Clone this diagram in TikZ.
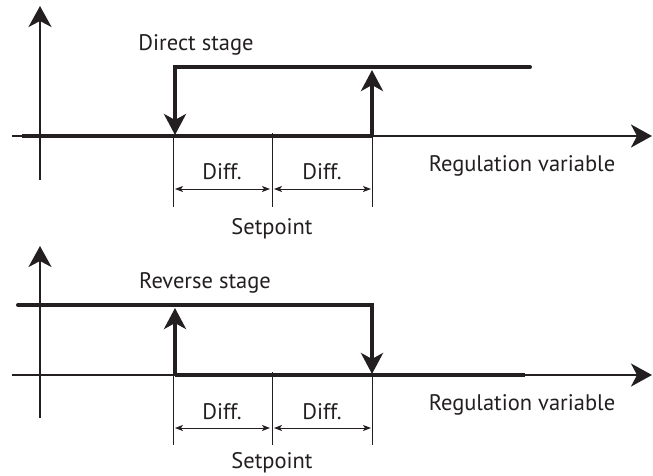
\documentclass[tikz,border=0pt]{standalone}
\usepackage{fontspec}
\setmainfont{PT Sans}
\usetikzlibrary{arrows.meta}
\definecolor{ink}{HTML}{231F20}
\begin{document}
\begin{tikzpicture}[x=1pt,y=-1pt,
  axis/.style={draw=ink,line width=2.3pt,-{Stealth[length=21pt,width=23pt,inset=6pt]}},
  sig/.style={draw=ink,line width=4pt},
  sigarrow/.style={draw=ink,line width=4pt,-{Stealth[length=21pt,width=22pt,inset=6pt]}},
  tick/.style={draw=ink,line width=0.9pt},
  dim/.style={draw=ink,line width=0.9pt,{Stealth[length=8pt,width=6pt,inset=2pt]}-{Stealth[length=8pt,width=6pt,inset=2pt]}},
  lbl/.style={text=ink,font=\fontsize{22.5}{26}\selectfont,inner sep=0pt}]
\useasboundingbox (0,0) rectangle (653,475);
% ---------- top diagram ----------
\coordinate (ya0) at (40,180); \coordinate (ya1) at (40,6);
\coordinate (xa0) at (12,136); \coordinate (xa1) at (652,136);
\draw[axis] (ya0) -- (ya1);
\draw[axis] (xa0) -- (xa1);
\coordinate (l0) at (22,136); \coordinate (l1) at (372,136);
\draw[sig] (l0) -- (l1);
\coordinate (u1) at (372,70);
\draw[sigarrow] (l1) -- (u1);
\coordinate (h1) at (530,67); \coordinate (h0) at (175,67); \coordinate (d1) at (175,135);
\draw[sigarrow,line cap=round] (h1) -- (h0) -- (d1);
\coordinate (t1a) at (173,136); \coordinate (t1b) at (173,207);
\coordinate (t2a) at (272,133); \coordinate (t2b) at (272,207);
\coordinate (t3a) at (372,136); \coordinate (t3b) at (372,207);
\draw[tick] (t1a) -- (t1b);
\draw[tick] (t2a) -- (t2b);
\draw[tick] (t3a) -- (t3b);
\coordinate (a1) at (175,189); \coordinate (a2) at (270,189);
\coordinate (a3) at (274,189); \coordinate (a4) at (371,189);
\draw[dim] (a1) -- (a2);
\draw[dim] (a3) -- (a4);
\node[lbl] (diff1) at (222,172) {Diff.};
\node[lbl] (diff2) at (322,172) {Diff.};
\node[lbl] (sp1) at (272,229) {Setpoint};
\node[lbl] (direct) at (196,45) {Direct stage};
\node[lbl] (rv1) at (522,166) {Regulation variable};
% ---------- bottom diagram ----------
\coordinate (yb0) at (40,418); \coordinate (yb1) at (40,246);
\coordinate (xb0) at (12,375); \coordinate (xb1) at (652,375);
\draw[axis] (yb0) -- (yb1);
\draw[axis] (xb0) -- (xb1);
\coordinate (r0) at (18,305); \coordinate (r1) at (372,305); \coordinate (r2) at (372,374);
\draw[sigarrow,line cap=round] (r0) -- (r1) -- (r2);
\coordinate (m0) at (175,375); \coordinate (m1) at (525,375); \coordinate (m2) at (175,308);
\draw[sig] (m0) -- (m1);
\draw[sigarrow] (m0) -- (m2);
\coordinate (s1a) at (173,375); \coordinate (s1b) at (173,445);
\coordinate (s2a) at (272,372); \coordinate (s2b) at (272,445);
\coordinate (s3a) at (372,375); \coordinate (s3b) at (372,445);
\draw[tick] (s1a) -- (s1b);
\draw[tick] (s2a) -- (s2b);
\draw[tick] (s3a) -- (s3b);
\coordinate (b1) at (175,428); \coordinate (b2) at (270,428);
\coordinate (b3) at (274,428); \coordinate (b4) at (371,428);
\draw[dim] (b1) -- (b2);
\draw[dim] (b3) -- (b4);
\node[lbl] (diff3) at (222,412) {Diff.};
\node[lbl] (diff4) at (322,412) {Diff.};
\node[lbl] (sp2) at (272,463) {Setpoint};
\node[lbl] (reverse) at (205,283) {Reverse stage};
\node[lbl] (rv2) at (522,405) {Regulation variable};
\end{tikzpicture}
\end{document}
